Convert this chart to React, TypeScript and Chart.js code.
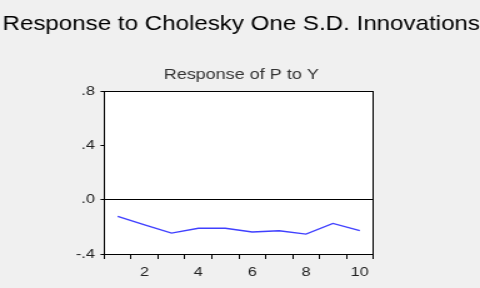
import React, { useEffect, useRef } from "react";
import { Chart, registerables } from "chart.js";

Chart.register(...registerables);

const periods = ["1", "2", "3", "4", "5", "6", "7", "8", "9", "10"];
const responsePtoY = [-0.122, -0.185, -0.246, -0.21, -0.21, -0.238, -0.228, -0.253, -0.174, -0.228];
const yTicks = [-0.4, 0, 0.4, 0.8];
const mainTitle = "Response to Cholesky One S.D. Innovations";
const panelTitle = "Response of P to Y";

const FONT = "'Liberation Sans', Arial, sans-serif";
// The reference image is horizontally stretched; draw on a narrower canvas and stretch it.
const INNER_W = 384;
const OUT_W = 480;
const H = 288;

const framePlugin = {
  id: "frame",
  afterDraw(chart: any) {
    const { ctx, chartArea } = chart;
    ctx.save();
    ctx.strokeStyle = "#000";
    ctx.lineWidth = 1;
    ctx.strokeRect(
      Math.round(chartArea.left) + 0.5,
      Math.round(chartArea.top) + 0.5,
      Math.round(chartArea.right - chartArea.left),
      Math.round(chartArea.bottom - chartArea.top)
    );
    ctx.restore();
  },
};

const bgPlugin = {
  id: "bg",
  beforeDraw(chart: any) {
    const { ctx, chartArea, width, height } = chart;
    ctx.save();
    ctx.fillStyle = "#f0f0f0";
    ctx.fillRect(0, 0, width, height);
    ctx.fillStyle = "#ffffff";
    ctx.fillRect(chartArea.left, chartArea.top, chartArea.right - chartArea.left, chartArea.bottom - chartArea.top);
    ctx.restore();
  },
};

export default function App() {
  const ref = useRef<HTMLCanvasElement | null>(null);

  useEffect(() => {
    document.body.style.margin = "0";
    const chart = new Chart(ref.current as HTMLCanvasElement, {
      type: "line",
      data: {
        labels: periods,
        datasets: [
          {
            data: responsePtoY,
            borderColor: "#4040ff",
            borderWidth: 1.4,
            pointRadius: 0,
            tension: 0,
            fill: false,
            yAxisID: "y",
          },
        ],
      },
      options: {
        animation: false,
        responsive: false,
        devicePixelRatio: 1,
        layout: { padding: { left: 2, right: 0, top: 0, bottom: 0 } },
        plugins: {
          legend: { display: false },
          tooltip: { enabled: false },
          title: {
            display: true,
            text: mainTitle,
            align: "start",
            color: "#000",
            font: { family: FONT, size: 21, weight: "normal" },
            padding: { top: 12, bottom: 8 },
          },
          subtitle: {
            display: true,
            text: panelTitle,
            align: "center",
            color: "#333",
            font: { family: FONT, size: 14.4, weight: "normal" },
            padding: { top: 21, bottom: 8 },
          },
        },
        scales: {
          x: {
            type: "category",
            offset: true,
            grid: {
              offset: true,
              drawOnChartArea: false,
              tickLength: 5,
              tickColor: "#000",
            },
            border: { display: true, color: "#000" },
            ticks: {
              autoSkip: false,
              maxRotation: 0,
              color: "#222",
              padding: 6,
              font: { family: FONT, size: 13 },
              callback: (_v: any, i: number) => ((i + 1) % 2 === 0 ? periods[i] : ""),
            },
            afterFit: (s: any) => {
              s.height = 34;
            },
          },
          y: {
            position: "left",
            min: -0.4,
            max: 0.8,
            afterBuildTicks: (s: any) => {
              s.ticks = yTicks.map((v) => ({ value: v }));
            },
            grid: {
              color: (c: any) => (c.tick && c.tick.value === 0 ? "#000" : "rgba(0,0,0,0)"),
              lineWidth: 1,
              tickLength: 3,
              tickColor: "#000",
            },
            border: { display: true, color: "#000" },
            ticks: {
              color: "#222",
              padding: 4.5,
              font: { family: FONT, size: 13 },
              callback: (v: any) => Number(v).toFixed(1).replace("0.", "."),
            },
            afterFit: (s: any) => {
              s.width = 81.4;
            },
          },
          yRight: {
            position: "right",
            display: true,
            grid: { display: false },
            border: { display: false },
            ticks: { display: false },
            afterFit: (s: any) => {
              s.width = 85.4;
            },
          },
        },
      },
      plugins: [bgPlugin, framePlugin],
    });
    return () => chart.destroy();
  }, []);

  return (
    <div style={{ position: "fixed", left: 0, top: 0, width: OUT_W, height: H, background: "#f0f0f0" }}>
      <canvas
        ref={ref}
        width={INNER_W}
        height={H}
        style={{ display: "block", width: OUT_W + "px", height: H + "px" }}
      />
    </div>
  );
}
